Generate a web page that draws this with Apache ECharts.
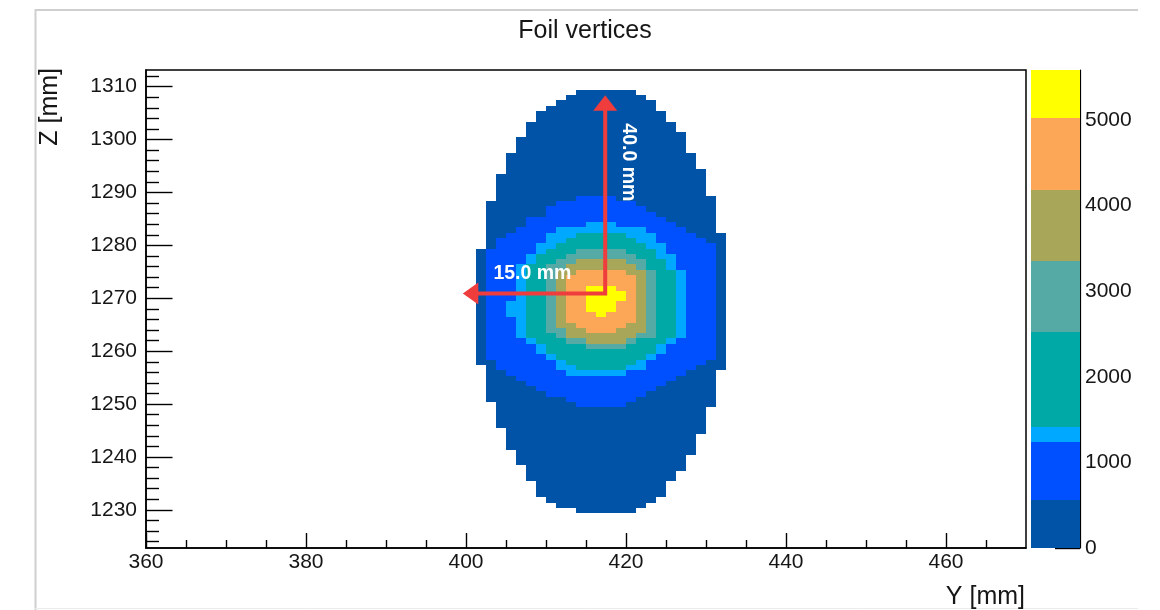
<!DOCTYPE html>
<html>
<head>
<meta charset="utf-8">
<title>Foil vertices</title>
<script src="https://cdn.jsdelivr.net/npm/echarts@6/dist/echarts.min.js"></script>
<style>
  html, body { margin: 0; padding: 0; background: #fff; }
  #chart { width: 1160px; height: 610px; }
</style>
</head>
<body>
<div id="chart"></div>
<script>
// ---- Histogram binning (mm) ----
const yBinStart = 401.25;   // low edge of first Y column
const yBinWidth = 1.25;
const zBinTop = 1309.4;     // high edge of first (top) Z row
const zBinHeight = 1.0;

// ---- Axis ranges and tick labels ----
const yRange = [360, 470];
const zRange = [1222.8, 1313.15];
const yMajorTicks = [360, 380, 400, 420, 440, 460];
const yMinorTicks = [365, 370, 375, 385, 390, 395, 405, 410, 415, 425, 430, 435, 445, 450, 455, 465];
const zMajorTicks = [1230, 1240, 1250, 1260, 1270, 1280, 1290, 1300, 1310];
const zMinorTicks = [1224, 1226, 1228, 1232, 1234, 1236, 1238, 1242, 1244, 1246, 1248,
                     1252, 1254, 1256, 1258, 1262, 1264, 1266, 1268, 1272, 1274, 1276, 1278,
                     1282, 1284, 1286, 1288, 1292, 1294, 1296, 1298, 1302, 1304, 1306, 1308, 1312];

// ---- Colour scale (entries per bin) ----
const countRange = [0, 5583];
const countTicks = [0, 1000, 2000, 3000, 4000, 5000];
const levelEdges = [0, 559, 1239, 1414, 2521, 3349, 4181, 5028, 5583];
const levelColors = ['#0053a6', '#0050ff', '#00a9ff', '#00a8a6', '#56aaa6', '#a8a658', '#fca658', '#ffff00'];
const levelCounts = [280, 900, 1330, 1970, 2935, 3765, 4605, 5300];

// ---- Bin contents: one string per Z row (top row first), one char per Y column.
// '.' = empty bin, digit = colour level of the bin.
const binRows = [
  '..........000000.........',
  '.........00000000........',
  '........0000000000.......',
  '.......00000000000.......',
  '......0000000000000......',
  '......0000000000000......',
  '.....000000000000000.....',
  '.....000000000000000.....',
  '.....0000000000000000....',
  '....00000000000000000....',
  '....00000000000000000....',
  '....00000000000000000....',
  '...0000000000000000000...',
  '...0000000000000000000...',
  '...0000000000000000000...',
  '...00000000000000000000..',
  '..000000000000000000000..',
  '..000000000000000000000..',
  '..000000000000000000000..',
  '..000000000000000000000..',
  '..0000000011110000000000.',
  '.00000001111111100000000.',
  '.00000011111111110000000.',
  '.00000011111111111000000.',
  '.00001111111111111100000.',
  '.00001111112221111110000.',
  '.00011112222222221111000.',
  '.001111222333332221111000',
  '.011111223333333221111100',
  '.011112233333333322111110',
  '0111112333444443332111110',
  '0111123334444444332211110',
  '0111123344555554433211110',
  '0111233445555555433211110',
  '0111233455666665543321110',
  '0111233456666666543321110',
  '0111233456666666543321110',
  '0111233456677766543321110',
  '0111233456677776543321110',
  '0111233456677776543321110',
  '0112233456677766543321110',
  '0112233456677766543321110',
  '0112233456667666543321110',
  '0111233456666666543321110',
  '0111233455666665543321110',
  '0111233445566655543321110',
  '0111233345555555443321110',
  '0111123334455554333211110',
  '0111112333344443332111110',
  '0111112333333333332111110',
  '0111111233333333321111110',
  '0011111123333333211111100',
  '.011111122333332211111000',
  '.00111111222222111111000.',
  '.00011111111111111110000.',
  '.00001111111111111100000.',
  '.00000111111111111000000.',
  '.00000011111111110000000.',
  '.00000000111111100000000.',
  '..0000000011111000000000.',
  '..000000000000000000000..',
  '..000000000000000000000..',
  '..000000000000000000000..',
  '..000000000000000000000..',
  '...00000000000000000000..',
  '...0000000000000000000...',
  '...0000000000000000000...',
  '...0000000000000000000...',
  '....000000000000000000...',
  '....00000000000000000....',
  '....00000000000000000....',
  '.....0000000000000000....',
  '.....000000000000000.....',
  '.....000000000000000.....',
  '......0000000000000......',
  '......0000000000000......',
  '......0000000000000......',
  '.......00000000000.......',
  '........000000000........',
  '..........000000.........'
];

// ---- Beam-spot size markers (data coordinates: [Y, Z]) ----
const arrowOrigin = [417.4, 1270.9];
const arrowTipZ = 1308.4;
const arrowTipY = 399.6;
const sizeLabels = [
  { text: '40.0 mm', at: [420.3, 1295.7], vertical: true },
  { text: '15.0 mm', at: [408.3, 1274.6], vertical: false }
];

binRows.forEach((r, i) => { if (r.length !== 25) console.warn('row', i, 'has', r.length, 'columns'); });

const FONT = '"Liberation Sans", Arial, Helvetica, sans-serif';
const INK = '#161616';

function levelOf(n) {
  for (let i = levelEdges.length - 2; i >= 0; i--) if (n >= levelEdges[i]) return i;
  return 0;
}

const heatData = [];
binRows.forEach((row, r) => {
  for (let c = 0; c < row.length; c++) {
    const ch = row[c];
    if (ch === '.') continue;
    heatData.push([yBinStart + c * yBinWidth, zBinTop - r * zBinHeight, levelCounts[+ch]]);
  }
});
const barData = levelColors.map((col, i) => [levelEdges[i], levelEdges[i + 1], i]);

const tickStyle = { color: '#000', width: 1.4 };
const plainNumber = v => String(v);
const labelStyle = { color: INK, fontSize: 21, fontFamily: FONT, formatter: plainNumber };

const chart = echarts.init(document.getElementById('chart'));
chart.setOption({
  animation: false,
  backgroundColor: '#fff',
  grid: [
    { left: 146, top: 70, width: 880, height: 478, show: true, borderColor: '#000', borderWidth: 1.5, containLabel: false },
    { left: 1031, top: 70, width: 49, height: 478, containLabel: false }
  ],
  xAxis: [
    { gridIndex: 0, type: 'value', position: 'bottom', min: yRange[0], max: yRange[1],
      axisLine: { show: true, onZero: false, lineStyle: { color: '#000', width: 1.5 } },
      axisTick: { show: true, inside: true, length: 15, customValues: yMajorTicks, lineStyle: tickStyle },
      axisLabel: Object.assign({ customValues: yMajorTicks, margin: 4 }, labelStyle),
      splitLine: { show: false } },
    { gridIndex: 0, type: 'value', position: 'bottom', min: yRange[0], max: yRange[1],
      axisLine: { show: false, onZero: false },
      axisTick: { show: true, inside: true, length: 8, customValues: yMinorTicks, lineStyle: tickStyle },
      axisLabel: { show: false }, splitLine: { show: false } },
    { gridIndex: 1, type: 'value', min: 0, max: 1, show: false }
  ],
  yAxis: [
    { gridIndex: 0, type: 'value', position: 'left', min: zRange[0], max: zRange[1],
      axisLine: { show: true, onZero: false, lineStyle: { color: '#000', width: 1.5 } },
      axisTick: { show: true, inside: true, length: 26.5, customValues: zMajorTicks, lineStyle: tickStyle },
      axisLabel: Object.assign({ customValues: zMajorTicks, margin: 9 }, labelStyle),
      splitLine: { show: false } },
    { gridIndex: 0, type: 'value', position: 'left', min: zRange[0], max: zRange[1],
      axisLine: { show: false, onZero: false },
      axisTick: { show: true, inside: true, length: 13, customValues: zMinorTicks, lineStyle: tickStyle },
      axisLabel: { show: false }, splitLine: { show: false } },
    { gridIndex: 1, type: 'value', position: 'right', min: countRange[0], max: countRange[1],
      axisLine: { show: true, onZero: false, lineStyle: { color: '#000', width: 1.2 } },
      axisTick: { show: true, inside: true, length: 25, customValues: countTicks, lineStyle: tickStyle },
      axisLabel: Object.assign({ customValues: countTicks, margin: 5 }, labelStyle),
      splitLine: { show: false } }
  ],
  series: [
    {
      type: 'custom', name: 'Foil vertices', xAxisIndex: 0, yAxisIndex: 0,
      data: heatData, encode: { x: 0, y: 1 }, clip: true,
      renderItem: function (params, api) {
        const y0 = api.value(0), zHi = api.value(1), n = api.value(2);
        const a = api.coord([y0, zHi]);
        const b = api.coord([y0 + yBinWidth, zHi - zBinHeight]);
        const x = Math.round(a[0]), y = Math.round(a[1]);
        return {
          type: 'rect',
          shape: { x: x, y: y, width: Math.round(b[0]) - x, height: Math.round(b[1]) - y },
          style: { fill: levelColors[levelOf(n)] }
        };
      }
    },
    {
      type: 'custom', name: 'palette', xAxisIndex: 2, yAxisIndex: 2,
      data: barData, encode: { y: [0, 1] },
      renderItem: function (params, api) {
        const a = api.coord([0, api.value(1)]);
        const b = api.coord([1, api.value(0)]);
        const x = Math.round(a[0]), y = Math.round(a[1]);
        return {
          type: 'rect',
          shape: { x: x, y: y, width: Math.round(b[0]) - x, height: Math.round(b[1]) - y },
          style: { fill: levelColors[api.value(2)] }
        };
      }
    }
  ]
});

// ---- Overlay: pad frame, titles and the size markers ----
const toPx = p => chart.convertToPixel({ xAxisIndex: 0, yAxisIndex: 0 }, p);
const o = toPx(arrowOrigin);
const up = toPx([arrowOrigin[0], arrowTipZ]);
const lf = toPx([arrowTipY, arrowOrigin[1]]);
const RED = '#ef3d3d';
const headLen = 15.5, headHalf = 12;

const graphics = [
  { type: 'polyline', shape: { points: [[35.5, 610], [35.5, 10], [1138, 10]] },
    style: { stroke: '#cfcfcf', lineWidth: 2, fill: null }, silent: true },
  { type: 'line', shape: { x1: 35, y1: 608.5, x2: 1138, y2: 608.5 },
    style: { stroke: '#ececec', lineWidth: 1 }, silent: true },
  { type: 'text', x: 585, y: 31,
    style: { text: 'Foil vertices', fill: INK, fontSize: 25, fontFamily: FONT,
             align: 'center', verticalAlign: 'middle', textAlign: 'center', textVerticalAlign: 'middle' } },
  { type: 'text', x: 1025, y: 597,
    style: { text: 'Y [mm]', fill: INK, fontSize: 25, fontFamily: FONT,
             align: 'right', verticalAlign: 'middle', textAlign: 'right', textVerticalAlign: 'middle' } },
  { type: 'text', x: 50.5, y: 68, rotation: Math.PI / 2,
    style: { text: 'Z [mm]', fill: INK, fontSize: 25, fontFamily: FONT,
             align: 'right', verticalAlign: 'middle', textAlign: 'right', textVerticalAlign: 'middle' } },
  { type: 'polyline', z: 10,
    shape: { points: [[up[0], up[1] + headLen - 1], [o[0], o[1]], [lf[0] + headLen - 1, lf[1]]] },
    style: { stroke: RED, lineWidth: 4, fill: null, lineJoin: 'miter' } },
  { type: 'polygon', z: 10,
    shape: { points: [[up[0], up[1]], [up[0] - headHalf, up[1] + headLen], [up[0] + headHalf, up[1] + headLen]] },
    style: { fill: RED } },
  { type: 'polygon', z: 10,
    shape: { points: [[lf[0], lf[1]], [lf[0] + headLen, lf[1] - headHalf + 1], [lf[0] + headLen, lf[1] + headHalf - 1]] },
    style: { fill: RED } }
];
sizeLabels.forEach(l => {
  const p = toPx(l.at);
  graphics.push({
    type: 'text', z: 11, x: p[0], y: p[1], rotation: l.vertical ? -Math.PI / 2 : 0,
    style: { text: l.text, fill: '#ffffff', fontSize: 19.5, fontWeight: 'bold', fontFamily: FONT,
             align: 'center', verticalAlign: 'middle', textAlign: 'center', textVerticalAlign: 'middle' }
  });
});
chart.setOption({ graphic: graphics });
</script>
</body>
</html>
